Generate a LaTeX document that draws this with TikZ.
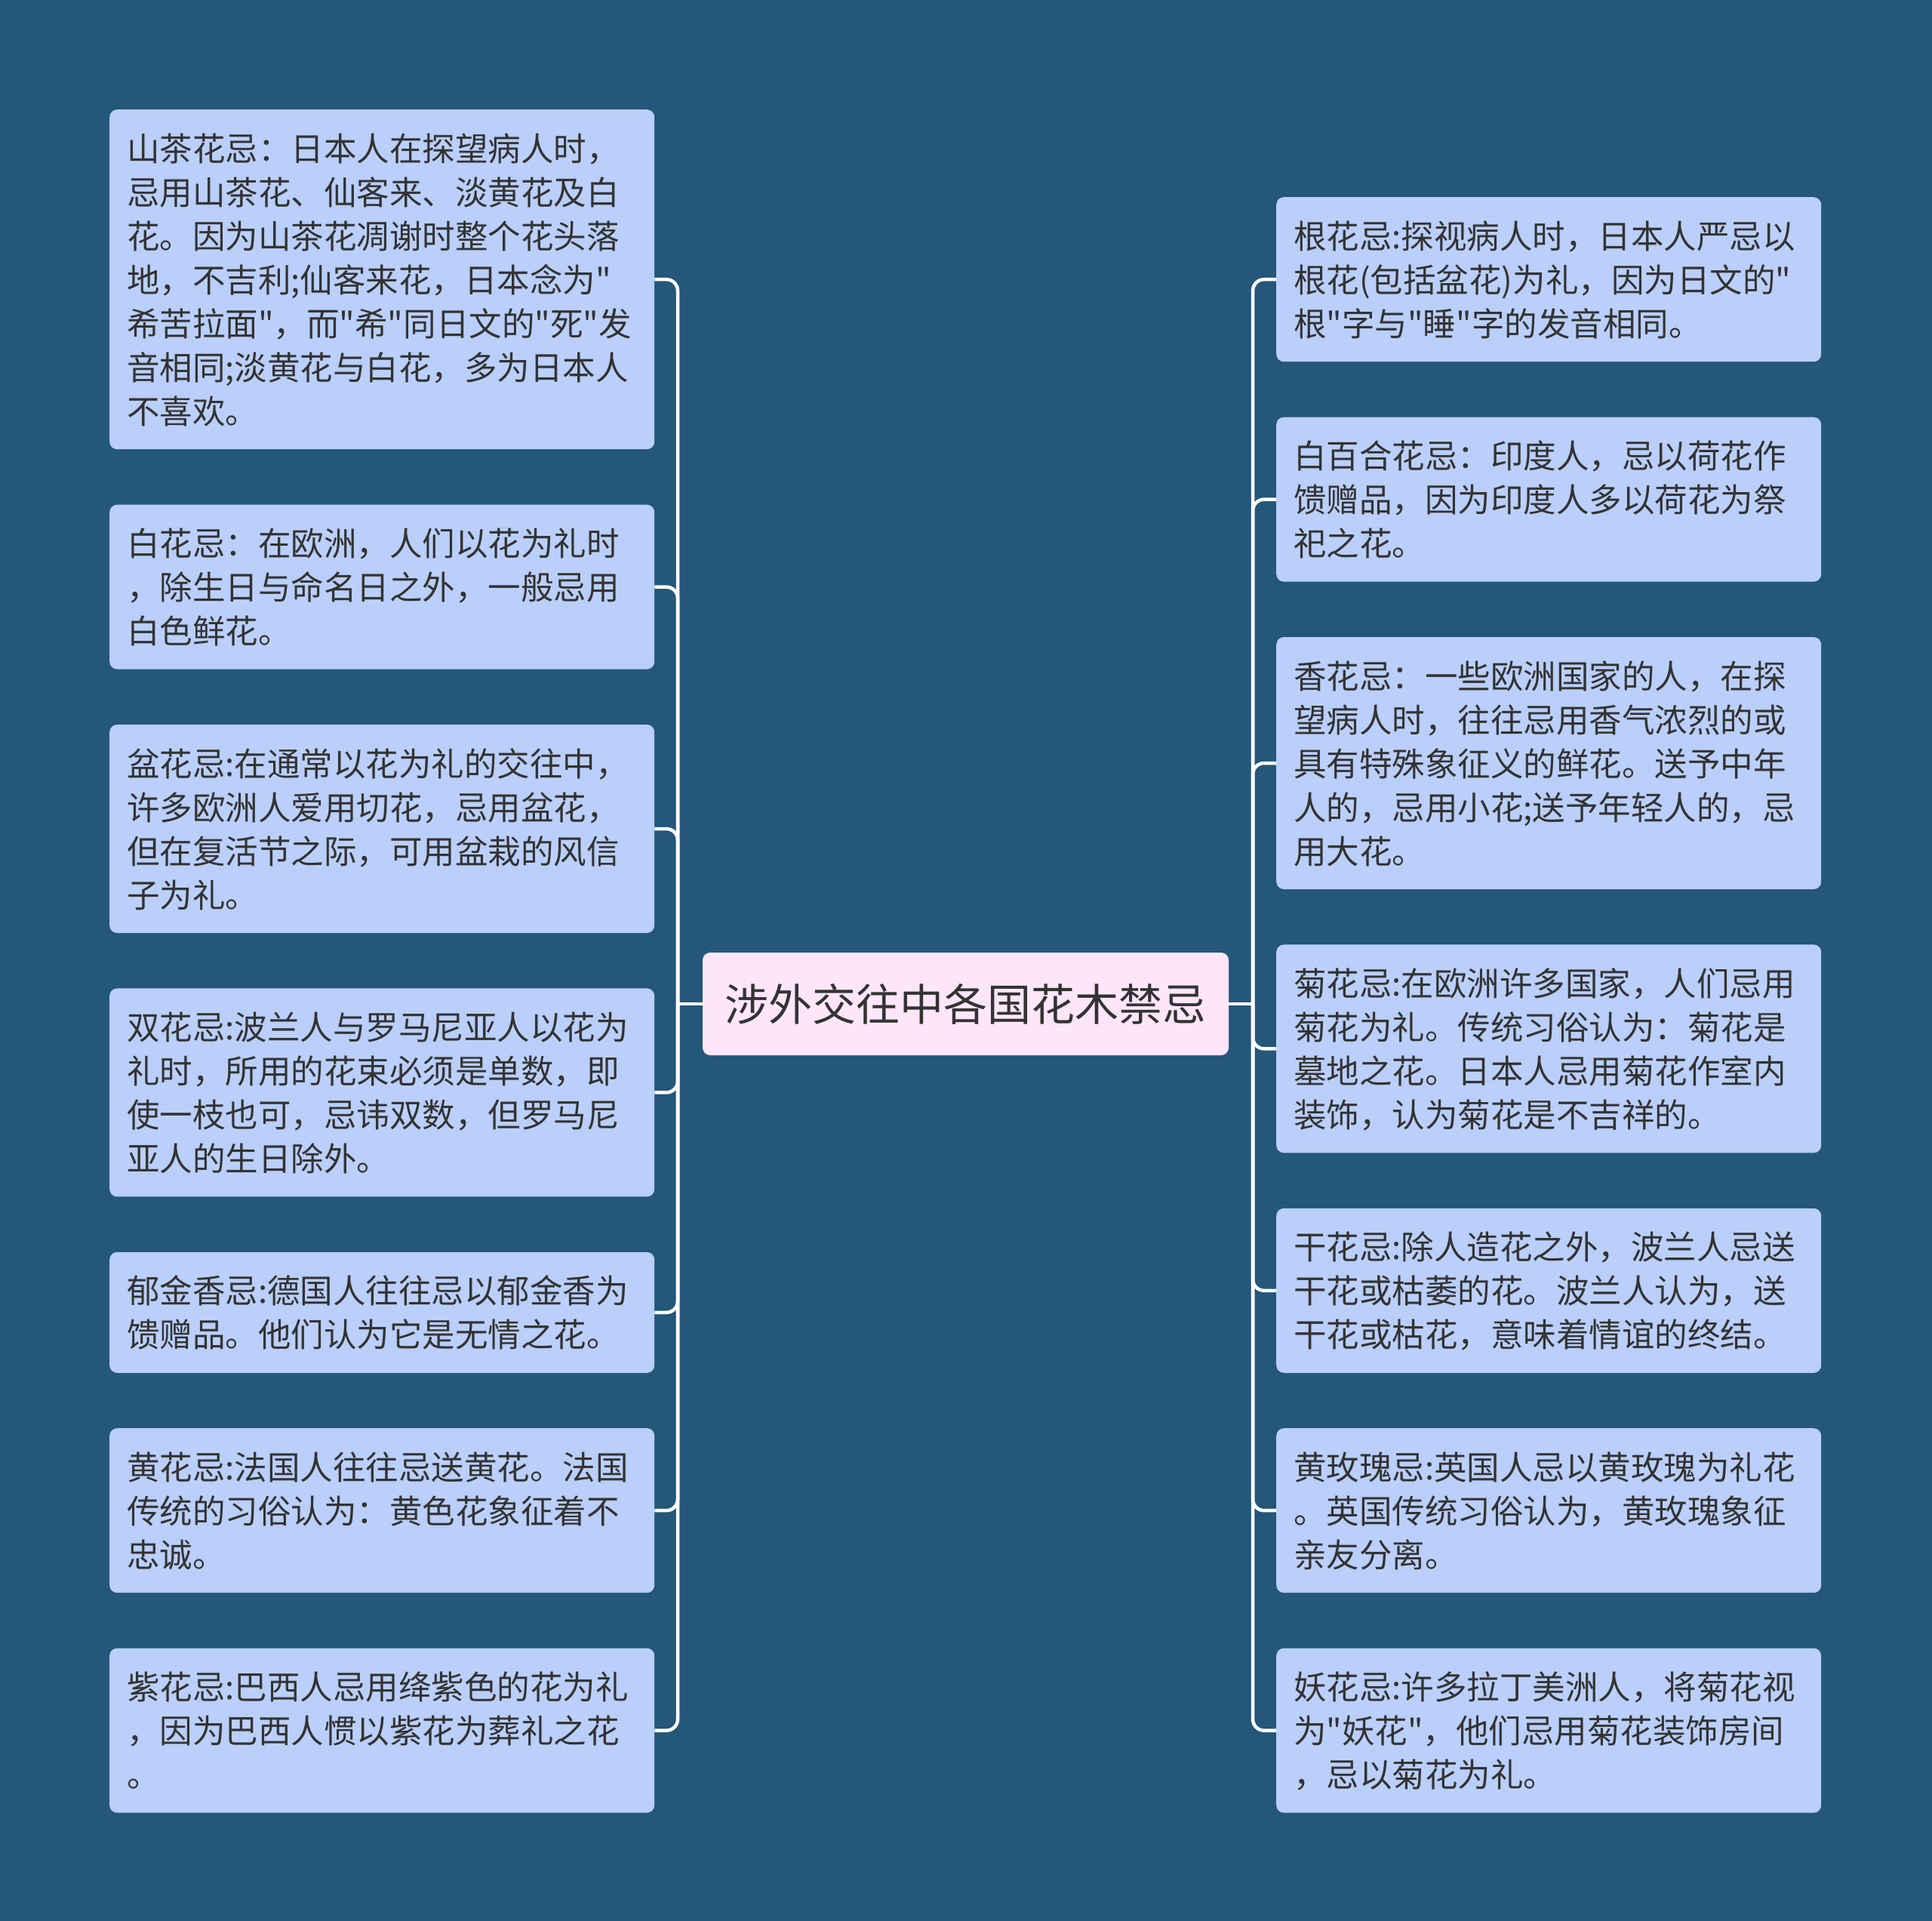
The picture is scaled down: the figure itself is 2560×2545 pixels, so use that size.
\documentclass[tikz,border=0pt]{standalone}
\usepackage{fontspec}
\newfontfamily\cjk{Noto Sans CJK SC}
\usetikzlibrary{positioning}
\definecolor{bgblue}{RGB}{36,87,122}
\definecolor{leaffill}{RGB}{186,207,250}
\definecolor{rootfill}{RGB}{253,230,250}
\definecolor{inkgray}{RGB}{51,51,51}
\newcommand{\vs}{\rule[-12pt]{0pt}{58pt}}

\begin{document}
\begin{tikzpicture}[x=1pt, y=-1pt, node distance=73pt,
    leaf/.style={fill=leaffill, rounded corners=10pt, text=inkgray, align=left,
      text width=676pt, inner xsep=23pt, inner ysep=22pt,
      font=\cjk\fontsize{43.5pt}{58pt}\selectfont},
    root/.style={fill=rootfill, rounded corners=10pt, text=inkgray,
      minimum width=697pt, minimum height=136pt, inner sep=0pt,
      font=\cjk\fontsize{58pt}{70pt}\selectfont},
    link/.style={draw=white, line width=4.5pt, rounded corners=15pt}]
  \fill[bgblue] (0,0) rectangle (2560,2545);
  \useasboundingbox (0,0) rectangle (2560,2545);

  \node[root] (T) at (1279.5,1330) {涉外交往中各国花木禁忌};

  % left column
  \node[leaf, anchor=north west] (L1) at (145,145) {\vs{}山茶花忌：日本人在探望病人时，\\\vs{}忌用山茶花、仙客来、淡黄花及白\\\vs{}花。因为山茶花凋谢时整个花头落\\\vs{}地，不吉利;仙客来花，日本念为"\\\vs{}希苦拉面"，而"希"同日文的"死"发\\\vs{}音相同;淡黄花与白花，多为日本人\\\vs{}不喜欢。};
  \node[leaf, below=of L1] (L2) {\vs{}白花忌：在欧洲，人们以花为礼时\\\vs{}，除生日与命名日之外，一般忌用\\\vs{}白色鲜花。};
  \node[leaf, below=of L2] (L3) {\vs{}盆花忌:在通常以花为礼的交往中，\\\vs{}许多欧洲人爱用切花，忌用盆花，\\\vs{}但在复活节之际，可用盆栽的风信\\\vs{}子为礼。};
  \node[leaf, below=of L3] (L4) {\vs{}双花忌:波兰人与罗马尼亚人以花为\\\vs{}礼时，所用的花束必须是单数，即\\\vs{}使一枝也可，忌讳双数，但罗马尼\\\vs{}亚人的生日除外。};
  \node[leaf, below=of L4] (L5) {\vs{}郁金香忌:德国人往往忌以郁金香为\\\vs{}馈赠品。他们认为它是无情之花。};
  \node[leaf, below=of L5] (L6) {\vs{}黄花忌:法国人往往忌送黄花。法国\\\vs{}传统的习俗认为：黄色花象征着不\\\vs{}忠诚。};
  \node[leaf, below=of L6] (L7) {\vs{}紫花忌:巴西人忌用绛紫色的花为礼\\\vs{}，因为巴西人惯以紫花为葬礼之花\\\vs{}。};

  % right column
  \node[leaf, anchor=north west] (R1) at (1691,261) {\vs{}根花忌:探视病人时，日本人严忌以\\\vs{}根花(包括盆花)为礼，因为日文的"\\\vs{}根"字与"睡"字的发音相同。};
  \node[leaf, below=of R1] (R2) {\vs{}白百合花忌：印度人，忌以荷花作\\\vs{}馈赠品，因为印度人多以荷花为祭\\\vs{}祀之花。};
  \node[leaf, below=of R2] (R3) {\vs{}香花忌：一些欧洲国家的人，在探\\\vs{}望病人时，往往忌用香气浓烈的或\\\vs{}具有特殊象征义的鲜花。送予中年\\\vs{}人的，忌用小花;送予年轻人的，忌\\\vs{}用大花。};
  \node[leaf, below=of R3] (R4) {\vs{}菊花忌:在欧洲许多国家，人们忌用\\\vs{}菊花为礼。传统习俗认为：菊花是\\\vs{}墓地之花。日本人忌用菊花作室内\\\vs{}装饰，认为菊花是不吉祥的。};
  \node[leaf, below=of R4] (R5) {\vs{}干花忌:除人造花之外，波兰人忌送\\\vs{}干花或枯萎的花。波兰人认为，送\\\vs{}干花或枯花，意味着情谊的终结。};
  \node[leaf, below=of R5] (R6) {\vs{}黄玫瑰忌:英国人忌以黄玫瑰为礼花\\\vs{}。英国传统习俗认为，黄玫瑰象征\\\vs{}亲友分离。};
  \node[leaf, below=of R6] (R7) {\vs{}妖花忌:许多拉丁美洲人，将菊花视\\\vs{}为"妖花"，他们忌用菊花装饰房间\\\vs{}，忌以菊花为礼。};

  % connectors
  \coordinate (jl) at (898,1330);
  \coordinate (jr) at (1660,1330);
  \draw[link] (T.west) -- (jl);
  \draw[link] (T.east) -- (jr);
  \foreach \i in {1,...,7} {
    \draw[link] (jl) |- (L\i.east);
    \draw[link] (jr) |- (R\i.west);
  }
\end{tikzpicture}
\end{document}
